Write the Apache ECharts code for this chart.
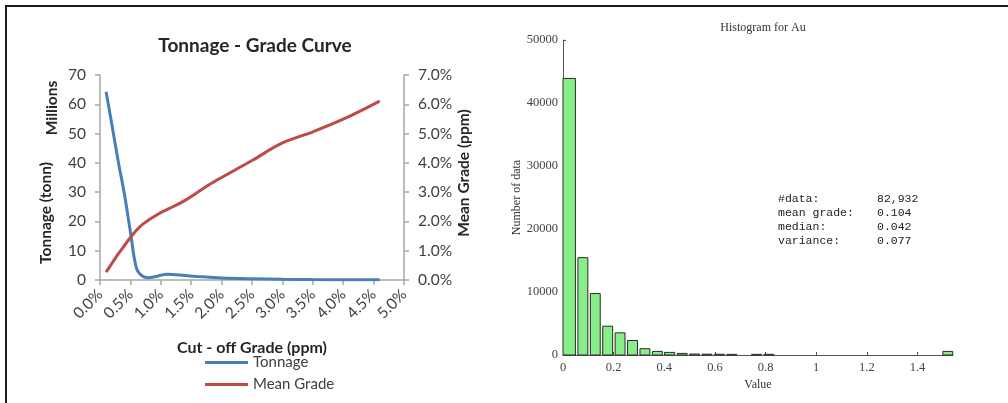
<!DOCTYPE html>
<html><head><meta charset="utf-8">
<script src="https://cdn.jsdelivr.net/npm/echarts@6/dist/echarts.min.js"></script>
<style>html,body{margin:0;padding:0;background:#fff}#c{width:1008px;height:403px}</style>
</head><body><div id="c"></div>
<script>
// Tonnage - Grade curve (cut-off grade in %)
const cutoff    = [0.1, 0.2, 0.3, 0.4, 0.5, 0.6, 0.7, 0.8, 0.9, 1.0, 1.1, 1.2, 1.4, 1.6, 1.8, 2.0, 2.5, 3.0, 3.5, 4.0, 4.6];
const tonnage   = [64.3, 52.5, 40.5, 29.5, 16.5, 4.0, 1.3, 0.8, 1.1, 1.6, 2.0, 1.9, 1.5, 1.2, 0.95, 0.7, 0.42, 0.22, 0.13, 0.08, 0.05];
const meanGrade = [0.27, 0.58, 0.89, 1.17, 1.45, 1.70, 1.90, 2.05, 2.18, 2.30, 2.40, 2.50, 2.72, 2.99, 3.26, 3.50, 4.08, 4.68, 5.06, 5.49, 6.11];

// Histogram for Au
const binWidth = 0.049;
const binStart = [0, 0.049, 0.098, 0.147, 0.196, 0.245, 0.294, 0.343, 0.392, 0.441, 0.49, 0.539, 0.588, 0.637, 0.735, 0.784, 1.49];
const binCount = [43900, 15450, 9750, 4570, 3520, 2300, 1000, 570, 410, 250, 150, 130, 120, 100, 100, 110, 570];
const statLabels = ['#data:', 'mean grade:', 'median:', 'variance:'];
const statValues = ['82,932', '0.104', '0.042', '0.077'];

const chart = echarts.init(document.getElementById('c'), null, {renderer: 'canvas'});
const sans = 'Lato';
const serif = 'Liberation Serif';
const mono = 'Liberation Mono';
const axisGray = '#a6a6a6';
const labelGray = '#404040';

const statGraphics = [];
statLabels.forEach((t, i) => {
  statGraphics.push({type: 'text', left: 778, top: 193 + i * 14,
    style: {text: t, font: '11.5px "' + mono + '"', fill: '#222'}});
  statGraphics.push({type: 'text', left: 877, top: 193 + i * 14,
    style: {text: statValues[i], font: '11.5px "' + mono + '"', fill: '#222'}});
});

const option = {
  backgroundColor: '#fff',
  animation: false,
  title: [
    {text: 'Tonnage - Grade Curve', left: 250, top: 31, textAlign: 'center',
     textStyle: {fontFamily: sans, fontWeight: 'bold', fontSize: 19, color: '#262626'}},
    {text: 'Histogram for Au', left: 758, top: 17, textAlign: 'center',
     textStyle: {fontFamily: serif, fontWeight: 'normal', fontSize: 12, color: '#333'}}
  ],
  legend: {
    data: ['Tonnage', 'Mean Grade'], orient: 'vertical', left: 200, top: 350,
    icon: 'rect', itemWidth: 43, itemHeight: 3, itemGap: 7,
    textStyle: {fontFamily: sans, fontSize: 15, color: labelGray}
  },
  grid: [
    {left: 100, right: 604, top: 75, bottom: 123, containLabel: false},
    {left: 563, right: 55, top: 40, bottom: 48, containLabel: false}
  ],
  xAxis: [
    {gridIndex: 0, type: 'value', min: 0, max: 5, interval: 0.5,
     name: 'Cut - off Grade (ppm)', nameLocation: 'middle', nameGap: 60,
     nameTextStyle: {fontFamily: sans, fontWeight: 'bold', fontSize: 16, color: '#262626'},
     axisLine: {show: true, lineStyle: {color: axisGray, width: 1.5}},
     axisTick: {show: true, length: 5, lineStyle: {color: axisGray, width: 1.5}},
     splitLine: {show: false},
     axisLabel: {rotate: 45, margin: 12, fontFamily: sans, fontSize: 15.5, color: labelGray,
       formatter: v => v.toFixed(1) + '%'}},
    {gridIndex: 1, type: 'value', min: 0, max: 1.54, interval: 0.2,
     name: 'Value', nameLocation: 'middle', nameGap: 19,
     nameTextStyle: {fontFamily: serif, fontSize: 12, color: '#333'},
     axisLine: {show: true, lineStyle: {color: '#555', width: 1}},
     axisTick: {show: true, inside: true, length: 3, lineStyle: {color: '#555'}},
     splitLine: {show: false},
     axisLabel: {margin: 6, fontFamily: serif, fontSize: 12.5, color: '#444',
       showMaxLabel: false,
       formatter: v => Math.abs(v / 0.2 - Math.round(v / 0.2)) < 1e-6 ? String(+v.toFixed(1)) : ''}}
  ],
  yAxis: [
    {gridIndex: 0, type: 'value', min: 0, max: 70, interval: 10,
     axisLine: {show: true, lineStyle: {color: axisGray, width: 1.5}},
     axisTick: {show: true, length: 5, lineStyle: {color: axisGray, width: 1.5}},
     splitLine: {show: false},
     axisLabel: {margin: 14, fontFamily: sans, fontSize: 15.5, color: labelGray}},
    {gridIndex: 0, type: 'value', position: 'right', min: 0, max: 7, interval: 1,
     axisLine: {show: true, lineStyle: {color: axisGray, width: 1.5}},
     axisTick: {show: true, length: 5, lineStyle: {color: axisGray, width: 1.5}},
     splitLine: {show: false},
     axisLabel: {margin: 14, fontFamily: sans, fontSize: 15.5, color: labelGray,
       formatter: v => v.toFixed(1) + '%'}},
    {gridIndex: 1, type: 'value', min: 0, max: 50000, interval: 10000,
     name: 'Number of data', nameLocation: 'middle', nameGap: 36,
     nameTextStyle: {fontFamily: serif, fontSize: 12, color: '#333'},
     axisLine: {show: true, lineStyle: {color: '#555', width: 1}},
     axisTick: {show: true, inside: true, length: 3, lineStyle: {color: '#555'}},
     splitLine: {show: false},
     axisLabel: {margin: 5, fontFamily: serif, fontSize: 12.5, color: '#444',
       formatter: v => String(v)}}
  ],
  graphic: [
    {type: 'line', shape: {x1: 6, y1: 6, x2: 1008, y2: 6}, style: {stroke: '#1a1a1a', lineWidth: 2}},
    {type: 'line', shape: {x1: 6, y1: 5, x2: 6, y2: 403}, style: {stroke: '#1a1a1a', lineWidth: 2}},
    {type: 'text', x: 52, y: 108, rotation: Math.PI / 2,
     style: {text: 'Millions', font: 'bold 15.5px "' + sans + '"', fill: '#262626', textAlign: 'center', textVerticalAlign: 'middle'}},
    {type: 'text', x: 46, y: 213, rotation: Math.PI / 2,
     style: {text: 'Tonnage (tonn)', font: 'bold 15.5px "' + sans + '"', fill: '#262626', textAlign: 'center', textVerticalAlign: 'middle'}},
    {type: 'text', x: 464, y: 173, rotation: Math.PI / 2,
     style: {text: 'Mean Grade (ppm)', font: 'bold 15.5px "' + sans + '"', fill: '#262626', textAlign: 'center', textVerticalAlign: 'middle'}}
  ].concat(statGraphics),
  series: [
    {name: 'Tonnage', type: 'line', xAxisIndex: 0, yAxisIndex: 0, smooth: 0.35, symbol: 'none',
     lineStyle: {color: '#4a7ebb', width: 3}, itemStyle: {color: '#4a7ebb'},
     data: cutoff.map((c, i) => [c, tonnage[i]])},
    {name: 'Mean Grade', type: 'line', xAxisIndex: 0, yAxisIndex: 1, smooth: 0.35, symbol: 'none',
     lineStyle: {color: '#be4b48', width: 3}, itemStyle: {color: '#be4b48'},
     data: cutoff.map((c, i) => [c, meanGrade[i]])},
    {name: 'Au', type: 'custom', xAxisIndex: 1, yAxisIndex: 2,
     encode: {x: 0, y: 1},
     data: binStart.map((s, i) => [s, binCount[i]]),
     renderItem: function (params, api) {
       const s = api.value(0), c = api.value(1);
       const top = api.coord([s, c]);
       const bot = api.coord([s + binWidth, 0]);
       const gap = s === 0 ? 0 : 2.5;
       return {type: 'rect',
         shape: {x: top[0] + gap, y: top[1], width: bot[0] - top[0] - gap, height: bot[1] - top[1]},
         style: {fill: '#88ee88', stroke: '#2a2a2a', lineWidth: 1}};
     }}
  ]
};
chart.setOption(option);
</script>
</body></html>
